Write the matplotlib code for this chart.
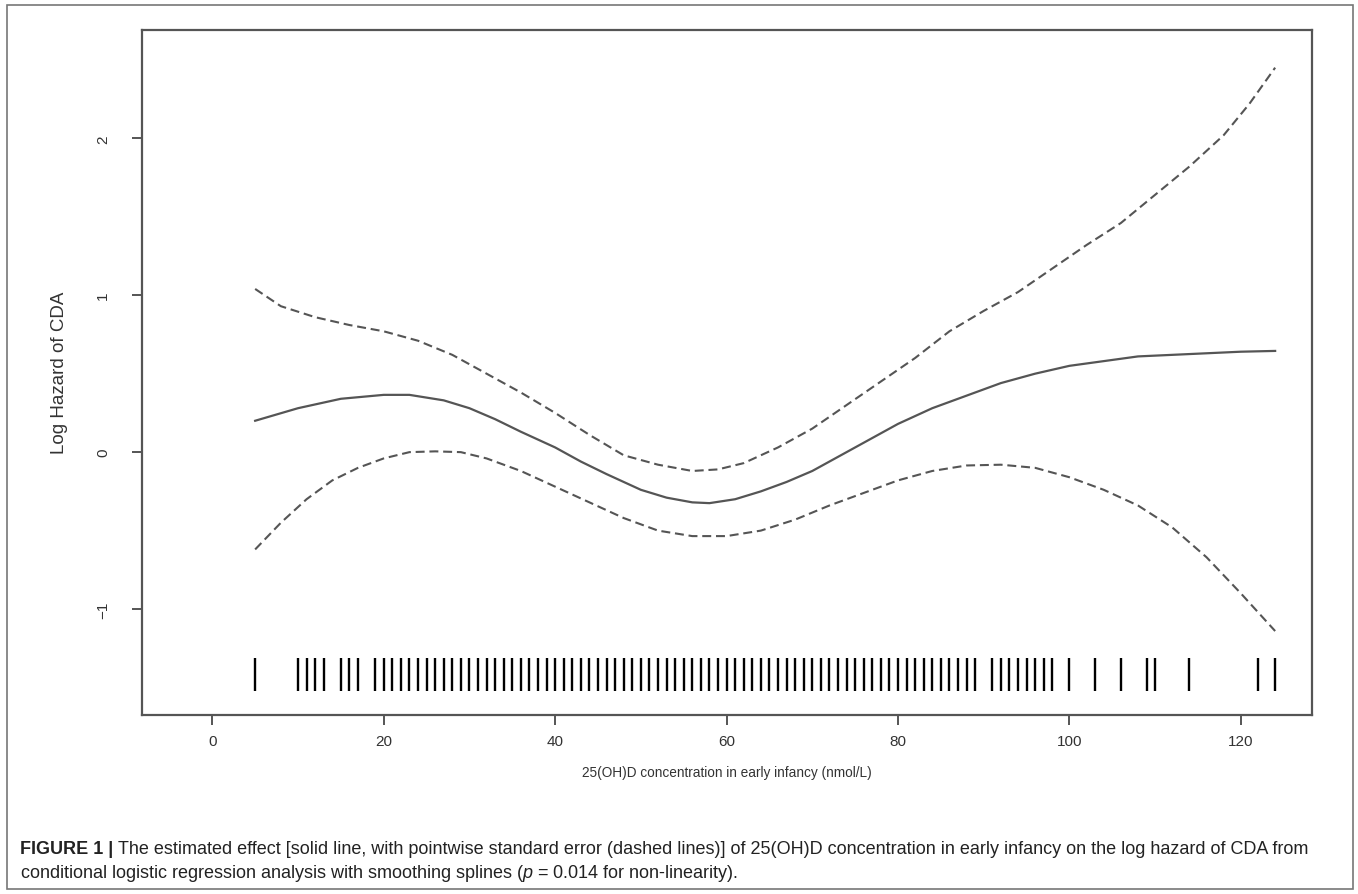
import numpy as np
import matplotlib.pyplot as plt
from matplotlib.patches import Rectangle

plt.rcParams['font.family'] = ['Liberation Sans', 'DejaVu Sans']
plt.rcParams['mathtext.fontset'] = 'custom'
plt.rcParams['mathtext.it'] = 'Liberation Sans:italic'
plt.rcParams['mathtext.rm'] = 'Liberation Sans'

# estimated effect (solid line)
fit_x = [5, 10, 15, 20, 23, 27, 30, 33, 36, 40, 43, 46, 50, 53, 56, 58, 61, 64, 67,
         70, 73, 76, 80, 84, 88, 92, 96, 100, 104, 108, 112, 116, 120, 124]
fit_y = [0.20, 0.28, 0.34, 0.365, 0.365, 0.33, 0.28, 0.21, 0.13, 0.03, -0.06, -0.14,
         -0.24, -0.29, -0.32, -0.325, -0.30, -0.25, -0.19, -0.12, -0.03, 0.06, 0.18,
         0.28, 0.36, 0.44, 0.50, 0.55, 0.58, 0.61, 0.62, 0.63, 0.64, 0.645]

# upper standard error band (dashed)
up_x = [5, 8, 12, 16, 20, 24, 28, 32, 36, 40, 44, 48, 52, 56, 59, 62, 66, 70, 74, 78,
        82, 86, 90, 94, 98, 102, 106, 110, 114, 118, 121, 124]
up_y = [1.04, 0.93, 0.86, 0.81, 0.77, 0.71, 0.62, 0.50, 0.38, 0.25, 0.11, -0.02,
        -0.08, -0.12, -0.11, -0.07, 0.03, 0.15, 0.30, 0.45, 0.60, 0.77, 0.90, 1.02,
        1.17, 1.32, 1.46, 1.64, 1.82, 2.02, 2.22, 2.45]

# lower standard error band (dashed)
lo_x = [5, 8, 11, 14, 17, 20, 23, 26, 29, 32, 36, 40, 44, 48, 52, 56, 60, 64, 68, 72,
        76, 80, 84, 88, 92, 96, 100, 104, 108, 112, 116, 120, 124]
lo_y = [-0.62, -0.45, -0.30, -0.18, -0.10, -0.04, 0.00, 0.005, 0.00, -0.04, -0.12,
        -0.22, -0.32, -0.42, -0.50, -0.535, -0.535, -0.50, -0.43, -0.34, -0.26, -0.18,
        -0.12, -0.085, -0.08, -0.10, -0.16, -0.24, -0.34, -0.48, -0.67, -0.90, -1.14]

# observed 25(OH)D values (rug)
rug_x = [5, 10, 11, 12, 13, 15, 16, 17] + list(range(19, 90)) + \
        [91, 92, 93, 94, 95, 96, 97, 98, 100, 103, 106, 109, 110, 114, 122, 124]

x_ticks = [0, 20, 40, 60, 80, 100, 120]
y_ticks = [-1, 0, 1, 2]

W, H = 1358, 895
fig = plt.figure(figsize=(W / 100, H / 100), dpi=100)
ax = fig.add_axes([142 / W, 1 - 716 / H, (1312 - 142) / W, (716 - 31) / H])

line_col = '#555555'
ax.plot(fit_x, fit_y, color=line_col, lw=1.6)
ax.plot(up_x, up_y, color=line_col, lw=1.5, dashes=(4.3, 2.3))
ax.plot(lo_x, lo_y, color=line_col, lw=1.5, dashes=(4.3, 2.3))
ax.vlines(rug_x, -1.52, -1.31, color='black', lw=1.7)

ax.set_xlim(-8.2, 128.3)
ax.set_ylim(-1.675, 2.69)
ax.set_xticks(x_ticks)
ax.set_yticks(y_ticks)
for s in ax.spines.values():
    s.set_color(line_col)
    s.set_linewidth(1.6)
ax.tick_params(length=7, width=1.4, color=line_col, labelcolor='#333333', labelsize=11)
ax.tick_params(axis='x', pad=7)
ax.tick_params(axis='y', pad=16)
for lab in ax.get_yticklabels():
    lab.set_rotation(90)
    lab.set_va('center')

fig.text(727 / W, 1 - 773 / H, '25(OH)D concentration in early infancy (nmol/L)',
         ha='center', va='center', fontsize=9.8, color='#333333')
fig.text(60 / W, 1 - 373 / H, 'Log Hazard of CDA', rotation=90,
         ha='center', va='center', fontsize=13.5, color='#333333')

# outer frame
fig.add_artist(Rectangle((7 / W, 1 - 890 / H), (1353 - 7) / W, (890 - 6) / H,
                         transform=fig.transFigure, fill=False, ec='#777777', lw=1.2))

# caption
cap_size = 13
t1 = fig.text(20 / W, 1 - 849 / H, 'FIGURE 1 |', fontsize=cap_size, fontweight='bold',
              va='center', ha='left', color='#222222')
fig.canvas.draw()
bb = t1.get_window_extent()
fig.text((bb.x1 + 5) / W, 1 - 849 / H,
         'The estimated effect [solid line, with pointwise standard error (dashed lines)] '
         'of 25(OH)D concentration in early infancy on the log hazard of CDA from',
         fontsize=cap_size, va='center', ha='left', color='#222222')
fig.text(20 / W, 1 - 874 / H,
         'conditional logistic regression analysis with smoothing splines '
         '($p$ = 0.014 for non-linearity).',
         fontsize=cap_size, va='center', ha='left', color='#222222')

fig.savefig('out.png', dpi=100)
